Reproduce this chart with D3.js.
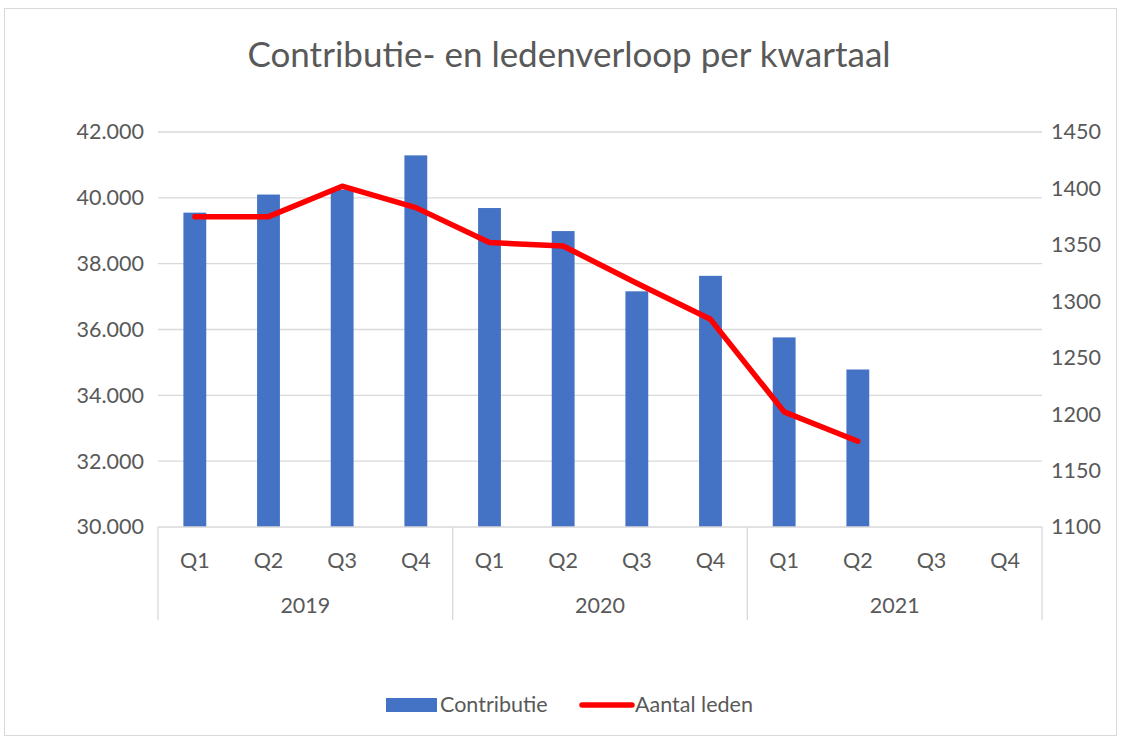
<!DOCTYPE html>
<html><head><meta charset="utf-8">
<script src="https://cdn.jsdelivr.net/npm/d3@7"></script>
<style>
html,body{margin:0;padding:0;background:#fff;}
text{font-family:Lato,"Noto Sans",sans-serif;fill:#595959;}
</style></head>
<body><svg id="c" width="1122" height="740"></svg>
<script>
const years = ["2019","2020","2021"];
const quarters = ["Q1","Q2","Q3","Q4"];
const contributie = [39550,40100,40250,41290, 39690,38990,37160,37630, 35760,34785,null,null];
const leden = [1375,1375,1402,1383, 1352,1349,1316,1284, 1202,1176,null,null];
const leftTicks = [30000,32000,34000,36000,38000,40000,42000];
const rightTicks = [1100,1150,1200,1250,1300,1350,1400,1450];
const title = "Contributie- en ledenverloop per kwartaal";
const legendLabels = ["Contributie","Aantal leden"];

const cats = [];
years.forEach(y=>quarters.forEach(q=>cats.push(y+"-"+q)));

const FS = 21.5;
const svg = d3.select("#c");
svg.append("rect").attr("x",4.5).attr("y",8.5).attr("width",1112).attr("height",727)
  .attr("fill","#fff").attr("stroke","#d9d9d9").attr("stroke-width",1);

const L=158, R=1042, T=132, B=527;
const x = d3.scaleBand().domain(cats).range([L,R]).paddingInner(0.69).paddingOuter(0.345);
const xc = d => x(d)+x.bandwidth()/2;
const y = d3.scaleLinear().domain([30000,42000]).range([B,T]);
const y2 = d3.scaleLinear().domain([1100,1450]).range([B,T]);

// gridlines
svg.append("g").selectAll("line").data(leftTicks.slice(1)).join("line")
  .attr("x1",L).attr("x2",R).attr("y1",d=>y(d)).attr("y2",d=>y(d))
  .attr("stroke","#d9d9d9").attr("stroke-width",1.3);

// left axis
const ya = d3.axisLeft(y).tickValues(leftTicks).tickSize(0).tickPadding(14)
  .tickFormat(d=>d3.format(",")(d).replace(/,/g,"."));
const gL = svg.append("g").attr("transform",`translate(${L},0)`).call(ya);
gL.select(".domain").remove();
gL.selectAll("text").attr("font-size",FS).attr("fill","#595959").attr("font-family","Lato");

const ya2 = d3.axisRight(y2).tickValues(rightTicks).tickSize(0).tickPadding(9).tickFormat(d3.format("d"));
const gR = svg.append("g").attr("transform",`translate(${R},0)`).call(ya2);
gR.select(".domain").remove();
gR.selectAll("text").attr("font-size",FS).attr("fill","#595959").attr("font-family","Lato");

// bars
svg.append("g").selectAll("rect").data(cats.map((c,i)=>({c,v:contributie[i]})).filter(d=>d.v!=null))
  .join("rect").attr("x",d=>x(d.c)).attr("width",x.bandwidth())
  .attr("y",d=>y(d.v)).attr("height",d=>B-y(d.v)).attr("fill","#4472c4");

// category axis
const ax = svg.append("g");
ax.append("line").attr("x1",L).attr("x2",R).attr("y1",B).attr("y2",B).attr("stroke","#d9d9d9").attr("stroke-width",1.3);
const bounds = years.map((yr,i)=>x(yr+"-Q1")-x.step()*x.paddingInner()/2);
bounds.push(R);
bounds[0]=L;
ax.selectAll("line.sep").data(bounds).join("line").attr("class","sep")
  .attr("x1",d=>d).attr("x2",d=>d).attr("y1",B).attr("y2",620)
  .attr("stroke","#d9d9d9").attr("stroke-width",1.3);
ax.selectAll("text.q").data(cats).join("text").attr("class","q")
  .attr("x",d=>xc(d)).attr("y",568).attr("text-anchor","middle").attr("font-size",FS)
  .text(d=>d.split("-")[1]);
ax.selectAll("text.yr").data(years).join("text").attr("class","yr")
  .attr("x",(d,i)=>(bounds[i]+bounds[i+1])/2).attr("y",613).attr("text-anchor","middle").attr("font-size",FS)
  .text(d=>d);

// line
const lineData = cats.map((c,i)=>({c,v:leden[i]})).filter(d=>d.v!=null);
svg.append("path").datum(lineData)
  .attr("d",d3.line().x(d=>xc(d.c)).y(d=>y2(d.v)))
  .attr("fill","none").attr("stroke","#ff0000").attr("stroke-width",5.5)
  .attr("stroke-linejoin","round").attr("stroke-linecap","round");

// title
svg.append("text").attr("x",569).attr("y",67).attr("text-anchor","middle")
  .attr("font-size",35).text(title);

// legend
const lg = svg.append("g");
lg.append("rect").attr("x",386).attr("y",698).attr("width",51).attr("height",14).attr("fill","#4472c4");
lg.append("text").attr("x",440).attr("y",712).attr("font-size",FS).text(legendLabels[0]);
lg.append("line").attr("x1",582).attr("x2",632).attr("y1",705).attr("y2",705)
  .attr("stroke","#ff0000").attr("stroke-width",5.5).attr("stroke-linecap","round");
lg.append("text").attr("x",635).attr("y",712).attr("font-size",FS).text(legendLabels[1]);
</script></body></html>
